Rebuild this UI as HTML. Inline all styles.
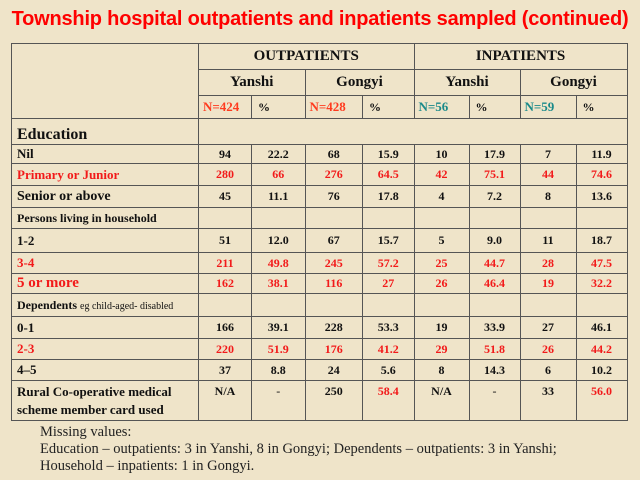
<!DOCTYPE html>
<html><head><meta charset="utf-8"><style>
body{margin:0;width:640px;height:480px;overflow:hidden;background:#efe4c9;font-family:"Liberation Serif",serif;position:relative}
h1{position:absolute;left:0;width:640px;top:8px;margin:0;text-align:center;font:bold 20px "Liberation Sans",sans-serif;color:#f00;letter-spacing:-0.2px}
table{position:absolute;left:11px;top:43px;border-collapse:collapse;table-layout:fixed;width:616px}
td{border:1px solid #555;padding:0;text-align:center;font-weight:bold;font-size:12px;color:#111;overflow:hidden;white-space:nowrap}
td.l{text-align:left;padding-left:5px;font-size:13px}
.r td{color:#f21a1a}
.h td{font-size:15px}
.o{color:#ff3b1f!important}.t{color:#1a8a8a!important}
.note{position:absolute;left:40px;top:424px;font-size:14.5px;line-height:17px;color:#222}
</style></head><body>
<h1>Township hospital outpatients and inpatients sampled (continued)</h1>
<table>
<colgroup><col style="width:187px"><col style="width:53px"><col style="width:53.5px"><col style="width:57.5px"><col style="width:51.5px"><col style="width:55px"><col style="width:51px"><col style="width:56px"><col style="width:51px"></colgroup>
<tr class="h" style="height:26px"><td rowspan="3"></td><td colspan="4">OUTPATIENTS</td><td colspan="4">INPATIENTS</td></tr>
<tr class="h" style="height:26px"><td colspan="2">Yanshi</td><td colspan="2">Gongyi</td><td colspan="2">Yanshi</td><td colspan="2">Gongyi</td></tr>
<tr style="height:23px;font-size:13px"><td class="o" style="font-size:13px;text-align:left;padding-left:4px">N=424</td><td style="text-align:left;padding-left:6px">%</td><td class="o" style="font-size:13px;text-align:left;padding-left:4px">N=428</td><td style="text-align:left;padding-left:6px">%</td><td class="t" style="font-size:13px;text-align:left;padding-left:4px">N=56</td><td style="text-align:left;padding-left:6px">%</td><td class="t" style="font-size:13px;text-align:left;padding-left:4px">N=59</td><td style="text-align:left;padding-left:6px">%</td></tr>
<tr style="height:26px"><td class="l" style="font-size:16px;vertical-align:bottom">Education</td><td colspan="8"></td></tr>
<tr style="height:19px"><td class="l">Nil</td><td>94</td><td>22.2</td><td>68</td><td>15.9</td><td>10</td><td>17.9</td><td>7</td><td>11.9</td></tr>
<tr class="r" style="height:22px"><td class="l">Primary or Junior</td><td>280</td><td>66</td><td>276</td><td>64.5</td><td>42</td><td>75.1</td><td>44</td><td>74.6</td></tr>
<tr style="height:22px"><td class="l" style="font-size:14px">Senior or above</td><td>45</td><td>11.1</td><td>76</td><td>17.8</td><td>4</td><td>7.2</td><td>8</td><td>13.6</td></tr>
<tr style="height:21px"><td class="l" style="font-size:12px">Persons living in household</td><td></td><td></td><td></td><td></td><td></td><td></td><td></td><td></td></tr>
<tr style="height:24px"><td class="l">1-2</td><td>51</td><td>12.0</td><td>67</td><td>15.7</td><td>5</td><td>9.0</td><td>11</td><td>18.7</td></tr>
<tr class="r" style="height:21px"><td class="l">3-4</td><td>211</td><td>49.8</td><td>245</td><td>57.2</td><td>25</td><td>44.7</td><td>28</td><td>47.5</td></tr>
<tr class="r" style="height:20px"><td class="l" style="font-size:15px">5 or more</td><td>162</td><td>38.1</td><td>116</td><td>27</td><td>26</td><td>46.4</td><td>19</td><td>32.2</td></tr>
<tr style="height:23px"><td class="l" style="font-size:12px">Dependents <span style="font-weight:normal;font-size:10px">eg child-aged- disabled</span></td><td></td><td></td><td></td><td></td><td></td><td></td><td></td><td></td></tr>
<tr style="height:22px"><td class="l">0-1</td><td>166</td><td>39.1</td><td>228</td><td>53.3</td><td>19</td><td>33.9</td><td>27</td><td>46.1</td></tr>
<tr class="r" style="height:21px"><td class="l">2-3</td><td>220</td><td>51.9</td><td>176</td><td>41.2</td><td>29</td><td>51.8</td><td>26</td><td>44.2</td></tr>
<tr style="height:21px"><td class="l">4–5</td><td>37</td><td>8.8</td><td>24</td><td>5.6</td><td>8</td><td>14.3</td><td>6</td><td>10.2</td></tr>
<tr style="height:40px;vertical-align:top"><td class="l" style="line-height:18px;padding-top:2px">Rural Co-operative medical<br>scheme member card used</td><td style="padding-top:3px">N/A</td><td style="padding-top:3px;font-weight:normal">-</td><td style="padding-top:3px">250</td><td style="padding-top:3px;color:#f21a1a">58.4</td><td style="padding-top:3px">N/A</td><td style="padding-top:3px;font-weight:normal">-</td><td style="padding-top:3px">33</td><td style="padding-top:3px;color:#f21a1a">56.0</td></tr>
</table>
<div class="note">Missing values:<br>Education – outpatients: 3 in Yanshi, 8 in Gongyi; Dependents – outpatients: 3 in Yanshi;<br>Household – inpatients: 1 in Gongyi.</div>
</body></html>
